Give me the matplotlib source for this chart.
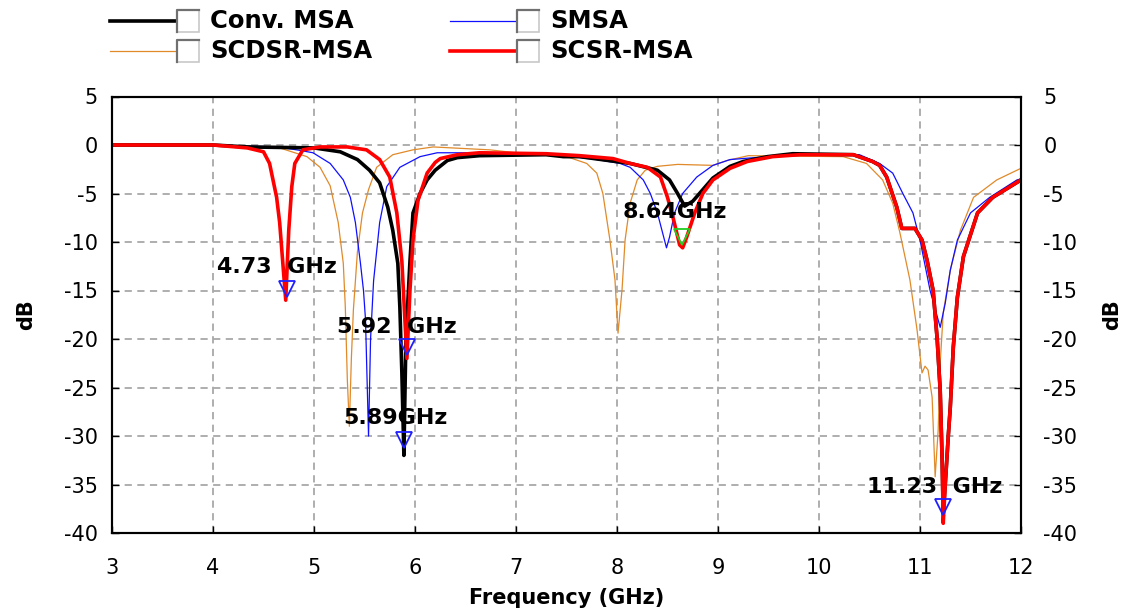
import matplotlib
matplotlib.use("Agg")
import matplotlib.pyplot as plt
from matplotlib.lines import Line2D
from matplotlib.patches import Rectangle

plt.rcParams['font.family'] = ['DejaVu Sans']
plt.rcParams['axes.unicode_minus'] = False

# ---------------- data ----------------
conv_f = [3.0, 4.0, 4.34, 5.0, 5.26, 5.43, 5.55, 5.65, 5.73, 5.78, 5.83, 5.85, 5.87, 5.89,
          5.91, 5.95, 5.98, 6.05, 6.12, 6.2, 6.32, 6.42, 6.64, 7.3, 7.47, 7.63, 8.13, 8.4,
          8.52, 8.6, 8.67, 8.75, 8.85, 8.95, 9.12, 9.25, 9.49, 9.74, 10.34, 10.53, 10.6,
          10.67, 10.77, 10.82, 10.95, 11.02, 11.07, 11.13, 11.17, 11.2, 11.22, 11.23, 11.25,
          11.28, 11.3, 11.33, 11.37, 11.43, 11.57, 11.72, 12.0]
conv_db = [0, 0, -0.2, -0.3, -0.7, -1.5, -2.6, -3.9, -6.4, -8.8, -12.2, -16.7, -23.5, -32,
           -20, -12, -7, -5, -3.6, -2.6, -1.6, -1.3, -1.1, -1.0, -1.2, -1.2, -1.9, -2.6,
           -3.6, -5, -6.3, -5.8, -4.6, -3.4, -2.2, -1.7, -1.2, -0.9, -1.0, -1.7, -2.1,
           -3.3, -6.4, -8.6, -8.6, -9.8, -11.9, -15, -20, -25.3, -32.8, -38, -35,
           -30, -27, -20.8, -15.7, -11.5, -7, -5.4, -3.6]

smsa_f = [3.0, 4.0, 4.63, 4.83, 4.99, 5.16, 5.29, 5.36, 5.41, 5.46, 5.49, 5.51, 5.525, 5.54,
          5.56, 5.59, 5.65, 5.72, 5.85, 6.05, 6.22, 6.48, 7.3, 7.8, 8.03, 8.13, 8.26, 8.33,
          8.4, 8.45, 8.49, 8.52, 8.57, 8.65, 8.79, 8.95, 9.12, 9.49, 10.0, 10.4, 10.6,
          10.73, 10.83, 10.93, 11.0, 11.1, 11.2, 11.25, 11.3, 11.37, 11.5, 11.69, 11.96, 12.0]
smsa_db = [0, 0, -0.2, -0.5, -0.8, -1.9, -3.6, -5.4, -8, -12.2, -15, -18, -24, -30,
           -20, -14, -8, -4.3, -2.3, -1.2, -0.8, -0.8, -0.9, -1.5, -1.9, -2.3, -3.6, -5,
           -7, -9, -10.6, -9.5, -7, -5, -3.3, -2.1, -1.5, -1.2, -1.0, -1.0, -1.9,
           -2.9, -5, -7, -9.8, -15, -18.8, -16.3, -12.9, -9.8, -7, -5.4, -3.6, -3.5]

scdsr_f = [3.0, 4.0, 4.5, 4.66, 4.93, 5.06, 5.16, 5.24, 5.29, 5.31, 5.33, 5.35, 5.37, 5.39,
           5.43, 5.48, 5.54, 5.62, 5.78, 5.98, 6.18, 6.74, 7.0, 7.53, 7.7, 7.8, 7.86, 7.93,
           7.98, 8.01, 8.05, 8.08, 8.13, 8.2, 8.28, 8.4, 8.6, 8.95, 9.09, 9.3, 10.24, 10.47,
           10.63, 10.73, 10.8, 10.9, 10.97, 11.02, 11.05, 11.08, 11.12, 11.15, 11.18, 11.2,
           11.23, 11.3, 11.4, 11.53, 11.76, 12.0]
scdsr_db = [0, 0, -0.2, -0.3, -1.2, -2.3, -4.2, -8, -12.2, -16.7, -24.2, -29, -22, -17,
            -11, -7, -4.6, -2.3, -1, -0.5, -0.2, -0.5, -0.8, -1.3, -1.9, -2.9, -5, -9.8,
            -13.9, -19.4, -14.9, -9.8, -6, -3.6, -2.6, -2.2, -2.0, -2.1, -1.6, -1.1, -1.2,
            -1.9, -3.6, -6, -9, -13.9, -19, -23.5, -22.8, -23.2, -26, -34.2, -29.4, -22.5,
            -17.3, -12.9, -8.8, -5.4, -3.6, -2.4]

scsr_f = [3.0, 4.0, 4.34, 4.5, 4.56, 4.63, 4.66, 4.69, 4.72, 4.75, 4.78, 4.81, 4.89, 5.06,
          5.33, 5.52, 5.65, 5.75, 5.82, 5.87, 5.9, 5.92, 5.95, 5.98, 6.03, 6.12, 6.2, 6.25,
          6.42, 6.64, 7.3, 7.63, 7.96, 8.13, 8.3, 8.43, 8.5, 8.56, 8.62, 8.65, 8.69, 8.77,
          8.85, 8.95, 9.12, 9.29, 9.54, 9.81, 10.34, 10.53, 10.6, 10.67, 10.77, 10.82,
          10.95, 11.02, 11.07, 11.13, 11.17, 11.2, 11.22, 11.23, 11.25, 11.28, 11.3, 11.33,
          11.37, 11.43, 11.57, 11.72, 12.0]
scsr_db = [0, 0, -0.3, -0.7, -1.9, -5.4, -8, -12, -16, -8.8, -4.3, -1.9, -0.5, -0.2,
           -0.2, -0.5, -1.5, -3.3, -7, -12, -18, -22, -15, -9.8, -5.7, -2.9, -1.8, -1.4,
           -1.0, -0.8, -0.9, -1.1, -1.4, -1.9, -2.3, -3.3, -5.4, -7.7, -10.3, -10.6, -9.5,
           -7, -5, -3.6, -2.4, -1.7, -1.2, -1.0, -1.0, -1.7, -2.1, -3.3, -6.4, -8.6,
           -8.6, -9.8, -11.9, -15, -20, -25.3, -32.8, -39, -35, -30, -27, -20.8,
           -15.7, -11.5, -7, -5.4, -3.6]

marker_f = [4.73, 5.92, 5.89, 8.64, 11.23]
marker_db = [-14.8, -20.8, -30.4, -9.5, -37.3]
marker_edge = ['#2020ff', '#2020ff', '#2020ff', '#22cc22', '#2020ff']
label_text = ['4.73  GHz', '5.92  GHz', '5.89GHz', '8.64GHz', '11.23  GHz']
label_f = [4.04, 5.23, 5.29, 8.06, 10.48]
label_db = [-12.6, -18.8, -28.1, -6.9, -35.3]

series_names = ['Conv. MSA', 'SMSA', 'SCDSR-MSA', 'SCSR-MSA']
series_colors = ['black', '#1010ff', '#e08a2a', '#ff0000']
series_lw = [2.6, 0.9, 0.9, 2.6]

x_ticks = list(range(3, 13))
y_ticks = list(range(-40, 6, 5))

# ---------------- figure ----------------
W, H = 1122, 608
fig = plt.figure(figsize=(W / 100, H / 100), dpi=100)
ax = fig.add_axes([112 / W, 1 - 533 / H, (1021 - 112) / W, (533 - 96.5) / H])

ax.plot(scdsr_f, scdsr_db, color=series_colors[2], lw=series_lw[2], zorder=3)
ax.plot(smsa_f, smsa_db, color=series_colors[1], lw=series_lw[1], zorder=4)
ax.plot(conv_f, conv_db, color=series_colors[0], lw=series_lw[0], zorder=5)
ax.plot(scsr_f, scsr_db, color=series_colors[3], lw=series_lw[3], zorder=6)

for f, d, ec in zip(marker_f, marker_db, marker_edge):
    ax.plot([f], [d], marker='v', ms=12, mfc='none', mec=ec, mew=1.3, zorder=7)
for t, f, d in zip(label_text, label_f, label_db):
    ax.text(f, d, t, fontsize=16, fontweight='bold', ha='left', va='center', zorder=8)

ax.set_xlim(3, 12)
ax.set_ylim(-40, 5)
ax.set_xticks(x_ticks)
ax.set_yticks(y_ticks)
ax.grid(True, color='#a8a8a8', linestyle=(0, (4, 3)), linewidth=1.3)
ax.set_axisbelow(True)
for s in ax.spines.values():
    s.set_linewidth(1.5)
ax.tick_params(axis='y', direction='in', length=5, labelsize=15, width=1, pad=10)
ax.tick_params(axis='x', direction='in', length=5, labelsize=15, width=1, pad=18)
ax.set_xlabel('Frequency (GHz)', fontsize=15, fontweight='bold', labelpad=7)
ax.set_ylabel('dB', fontsize=15, fontweight='bold', labelpad=20)

ax2 = ax.twinx()
ax2.set_ylim(-40, 5)
ax2.set_yticks(y_ticks)
ax2.tick_params(direction='in', length=5, labelsize=15, width=1, pad=16)
ax2.set_ylabel('dB', fontsize=15, fontweight='bold', labelpad=18, rotation=90)
for s in ax2.spines.values():
    s.set_linewidth(1.5)

# ---------------- legend (custom, figure pixels) ----------------
def fx(px):
    return px / W

def fy(py):
    return 1 - py / H

legend_rows = [(21, 0, 1), (51, 2, 3)]
for row_y, i_left, i_right in legend_rows:
    for idx, x0 in ((i_left, 110), (i_right, 450)):
        x_line_end = x0 + 65
        fig.add_artist(Line2D([fx(x0), fx(x_line_end)], [fy(row_y), fy(row_y)],
                              color=series_colors[idx], lw=series_lw[idx]))
        bx = x_line_end + 2
        fig.add_artist(Rectangle((fx(bx), fy(row_y + 11)), fx(22), 22 / H,
                                 facecolor='white', edgecolor='#c8c8c8', lw=1.2))
        fig.add_artist(Line2D([fx(bx), fx(bx), fx(bx + 22)],
                              [fy(row_y + 11), fy(row_y - 11), fy(row_y - 11)],
                              color='#707070', lw=1.6))
        fig.text(fx(bx + 33), fy(row_y), series_names[idx], fontsize=17.5,
                 fontweight='bold', ha='left', va='center')

fig.savefig('out.png', dpi=100)
